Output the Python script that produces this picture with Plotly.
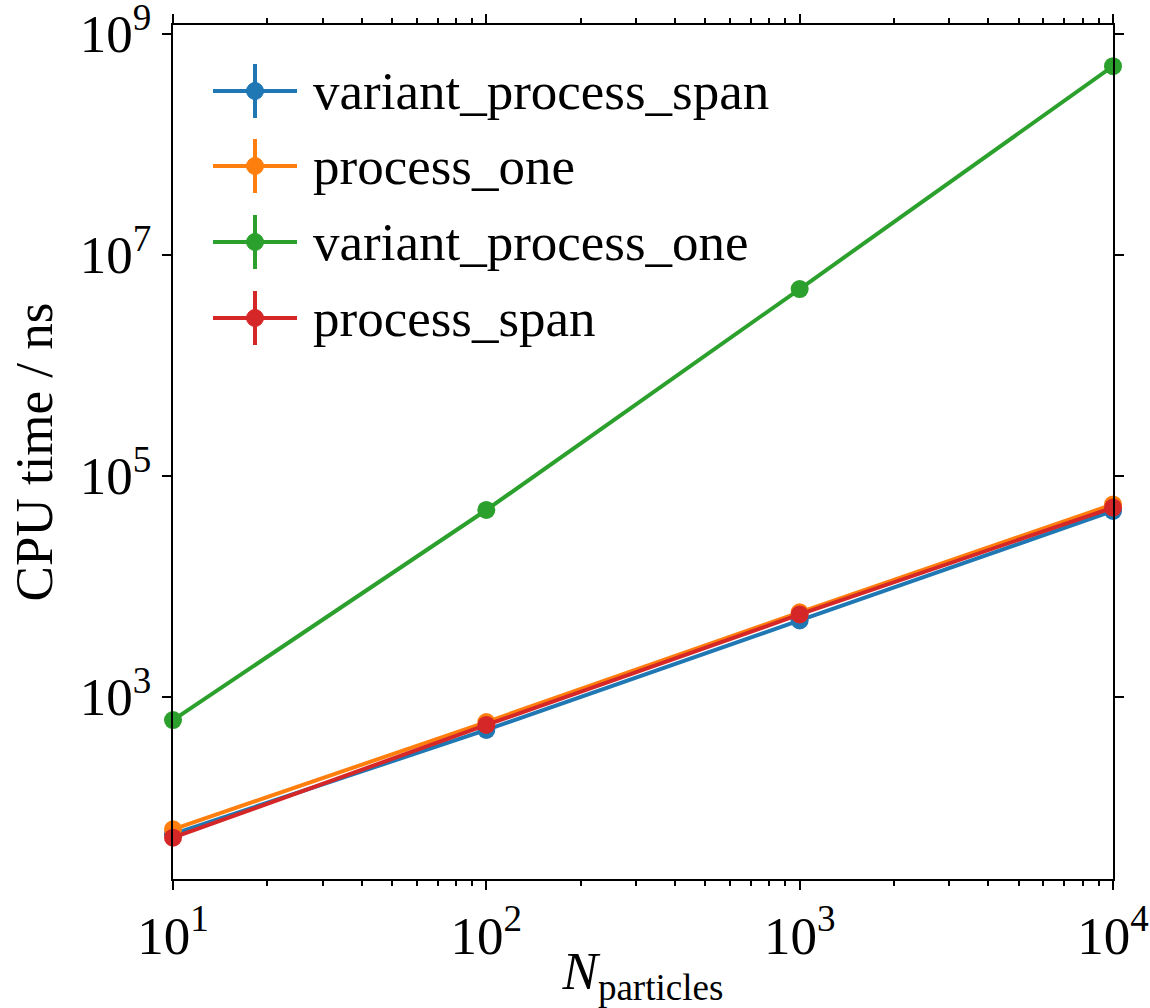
import plotly.graph_objects as go

n_particles = [10, 100, 1000, 10000]
variant_process_span = [57, 500, 4900, 48000]
process_one = [63, 590, 5800, 55000]
variant_process_one = [615, 49000, 4.9e6, 5.1e8]
process_span = [53, 555, 5550, 51500]

series_names = ["variant_process_span", "process_one", "variant_process_one", "process_span"]
series_values = [variant_process_span, process_one, variant_process_one, process_span]
colors = ["#1f77b4", "#ff7f0e", "#2ca02c", "#d62728"]

x_tickvals = [10, 100, 1000, 10000]
x_ticktext = ["10<sup>1</sup>", "10<sup>2</sup>", "10<sup>3</sup>", "10<sup>4</sup>"]
y_tickvals = [1e3, 1e5, 1e7, 1e9]
y_ticktext = ["10<sup>3</sup>", "10<sup>5</sup>", "10<sup>7</sup>", "10<sup>9</sup>"]
x_minor = [m * 10 ** e for e in (1, 2, 3) for m in range(2, 10)]

FONT = "Liberation Serif"
FS = 53

# plot area in pixels (for legend placement)
L, R, T, B = 173, 1113, 25, 879
W, H = R - L, B - T

def px(xp):
    return (xp - L) / W

def py(yp):
    return (B - yp) / H

fig = go.Figure()
for name, vals, col in zip(series_names, series_values, colors):
    fig.add_trace(go.Scatter(
        x=n_particles, y=vals, name=name, mode="lines+markers",
        line=dict(color=col, width=4),
        marker=dict(color=col, size=18),
        cliponaxis=False, showlegend=False,
    ))

# custom legend (matplotlib-like, with errorbar glyph)
legend_rows = [91, 166, 242, 318]
shapes = []
annotations = []
for name, col, row in zip(series_names, colors, legend_rows):
    shapes.append(dict(type="line", xref="paper", yref="paper",
                       x0=px(213), x1=px(297), y0=py(row), y1=py(row),
                       line=dict(color=col, width=4)))
    shapes.append(dict(type="line", xref="paper", yref="paper",
                       x0=px(255), x1=px(255), y0=py(row - 27), y1=py(row + 27),
                       line=dict(color=col, width=4)))
    shapes.append(dict(type="circle", xref="paper", yref="paper",
                       x0=px(246.5), x1=px(263.5), y0=py(row - 8.5), y1=py(row + 8.5),
                       fillcolor=col, line=dict(color=col, width=1)))
    annotations.append(dict(text=name, xref="paper", yref="paper",
                            x=px(311), y=py(row), xanchor="left", yanchor="middle",
                            showarrow=False,
                            font=dict(family=FONT, size=FS, color="black")))

axis_common = dict(
    type="log", showgrid=False, zeroline=False, showline=True,
    linecolor="black", linewidth=2, mirror="ticks", ticks="outside",
    tickcolor="black", tickwidth=2, ticklen=9, automargin=False,
    ticklabeloverflow="allow",
    tickfont=dict(family=FONT, size=FS, color="black"),
)

fig.update_xaxes(
    **axis_common, range=[1, 4], tickmode="array",
    tickvals=x_tickvals, ticktext=x_ticktext,
    minor=dict(tickmode="array", tickvals=x_minor, ticks="outside",
               ticklen=5, tickwidth=1.5, tickcolor="black"),
    title=dict(text="<i>N</i><sub>particles</sub>",
               font=dict(family=FONT, size=FS, color="black"), standoff=8),
)
fig.update_yaxes(
    **axis_common, range=[1.35, 9.08], tickmode="array",
    tickvals=y_tickvals, ticktext=y_ticktext,
    title=dict(text="CPU time / ns",
               font=dict(family=FONT, size=FS, color="black"), standoff=10),
)

fig.update_layout(
    width=1150, height=1008,
    margin=dict(l=L, r=1150 - R, t=T, b=1008 - B),
    paper_bgcolor="white", plot_bgcolor="white",
    font=dict(family=FONT, color="black"),
    showlegend=False,
    shapes=shapes, annotations=annotations,
)

fig.write_html("out.html")
